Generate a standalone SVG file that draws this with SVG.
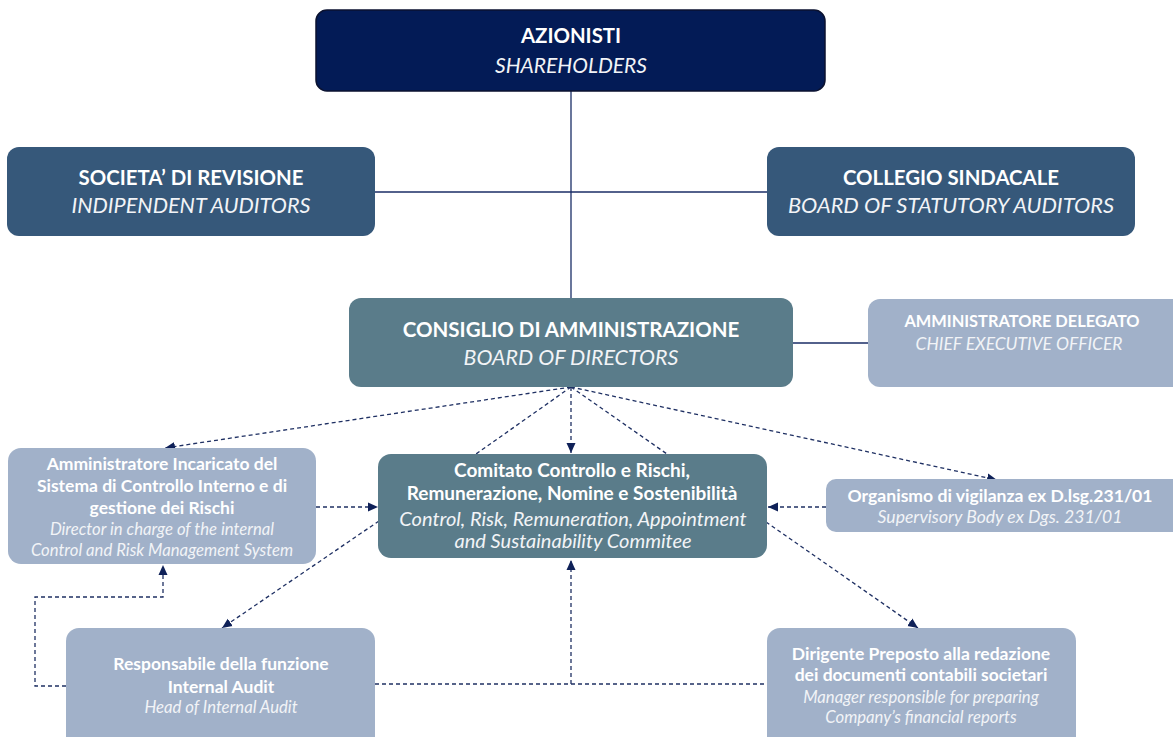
<svg xmlns="http://www.w3.org/2000/svg" width="1173" height="737" viewBox="0 0 1173 737">
<defs>
<style>
.t{font-family:Lato,"Open Sans","Liberation Sans",sans-serif;text-anchor:middle;fill:#ffffff}
.b{font-weight:bold}
.i{font-style:italic;fill:#f2f4f7}
.solid{fill:none;stroke:#1a2d66;stroke-width:1.3}
.dash{fill:none;stroke:#1f3063;stroke-width:1.3;stroke-dasharray:4 3}
.dark{fill:#36587a}
.mid{fill:#5a7c8a}
.light{fill:#a1b1c9}
.sb{font-size:17.5px}
.si{font-size:16.7px}
</style>
<marker id="arr" viewBox="0 0 10 10" refX="10" refY="5" markerWidth="10" markerHeight="10" markerUnits="userSpaceOnUse" orient="auto">
<path d="M0,0.5 L10,5 L0,9.5 z" fill="#0f2158"/>
</marker>
</defs>
<rect width="1173" height="737" fill="#ffffff"/>

<g id="connectors">
<path class="solid" d="M571,91 L571,298"/>
<path class="solid" d="M375,192 L767,192"/>
<path class="solid" d="M793,343 L868,343"/>
<path class="dash" d="M571,387 L165,448" marker-end="url(#arr)"/>
<path class="dash" d="M571,387 L476,454"/>
<path class="dash" d="M571,387 L571,453" marker-end="url(#arr)"/>
<path class="dash" d="M571,387 L667,454"/>
<path class="dash" d="M571,387 L997,480" marker-end="url(#arr)"/>
<path class="dash" d="M316,507 L378,507" marker-end="url(#arr)"/>
<path class="dash" d="M826,507 L768,507" marker-end="url(#arr)"/>
<path class="dash" d="M379,521 L222,628" marker-end="url(#arr)"/>
<path class="dash" d="M766,522 L918,628" marker-end="url(#arr)"/>
<path class="dash" d="M66,686 L35,686 L35,597 L163,597 L163,565" marker-end="url(#arr)"/>
<path class="dash" d="M375,684 L767,684"/>
<path class="dash" d="M571,684 L571,560" marker-end="url(#arr)"/>
</g>

<g id="azionisti">
<rect x="316" y="10" width="509" height="81" rx="11" fill="#031b56" stroke="#0b1230" stroke-width="1.5"/>
<text class="t b" x="571" y="43" font-size="20.4">AZIONISTI</text>
<text class="t i" x="571" y="73" font-size="21">SHAREHOLDERS</text>
</g>

<g id="societa-revisione">
<rect class="dark" x="7" y="147" width="368" height="89" rx="12"/>
<text class="t b" x="191" y="185" font-size="20.4">SOCIETA’ DI REVISIONE</text>
<text class="t i" x="191" y="213" font-size="21.6">INDIPENDENT AUDITORS</text>
</g>

<g id="collegio-sindacale">
<rect class="dark" x="767" y="147" width="368" height="89" rx="12"/>
<text class="t b" x="951" y="185" font-size="20.4">COLLEGIO SINDACALE</text>
<text class="t i" x="951" y="213" font-size="21.8">BOARD OF STATUTORY AUDITORS</text>
</g>

<g id="consiglio">
<rect class="mid" x="349" y="298" width="444" height="89" rx="12"/>
<text class="t b" x="571" y="337" font-size="20.5">CONSIGLIO DI AMMINISTRAZIONE</text>
<text class="t i" x="571" y="365" font-size="21.4">BOARD OF DIRECTORS</text>
</g>

<g id="amministratore-delegato">
<rect class="light" x="868" y="299" width="320" height="88" rx="12"/>
<text class="t b" x="1022" y="327" font-size="16.4">AMMINISTRATORE DELEGATO</text>
<text class="t i" x="1019" y="350" font-size="17.4">CHIEF EXECUTIVE OFFICER</text>
</g>

<g id="comitato">
<rect class="mid" x="378" y="454" width="389" height="104" rx="13"/>
<text class="t b" x="572" y="477" font-size="19">Comitato Controllo e Rischi,</text>
<text class="t b" x="572" y="500" font-size="19">Remunerazione, Nomine e Sostenibilità</text>
<text class="t i" x="573" y="526" font-size="20">Control, Risk, Remuneration, Appointment</text>
<text class="t i" x="573" y="548" font-size="20">and Sustainability Commitee</text>
</g>

<g id="amministratore-incaricato">
<rect class="light" x="8" y="448" width="308" height="116" rx="13"/>
<text class="t b sb" x="162" y="470">Amministratore Incaricato del</text>
<text class="t b sb" x="162" y="492">Sistema di Controllo Interno e di</text>
<text class="t b sb" x="162" y="514">gestione dei Rischi</text>
<text class="t i si" x="162" y="535">Director in charge of the internal</text>
<text class="t i si" x="162" y="556">Control and Risk Management System</text>
</g>

<g id="organismo-vigilanza">
<rect class="light" x="826" y="479" width="360" height="53" rx="10"/>
<text class="t b" x="1000" y="502" font-size="17.6">Organismo di vigilanza ex D.lsg.231/01</text>
<text class="t i" x="1000" y="523" font-size="17.6">Supervisory Body ex Dgs. 231/01</text>
</g>

<g id="responsabile-internal-audit">
<rect class="light" x="66" y="628" width="309" height="125" rx="13"/>
<text class="t b sb" x="221" y="670">Responsabile della funzione</text>
<text class="t b sb" x="221" y="693">Internal Audit</text>
<text class="t i si" x="221" y="713">Head of Internal Audit</text>
</g>

<g id="dirigente-preposto">
<rect class="light" x="767" y="628" width="309" height="125" rx="13"/>
<text class="t b sb" x="921" y="660">Dirigente Preposto alla redazione</text>
<text class="t b sb" x="921" y="681">dei documenti contabili societari</text>
<text class="t i si" x="921" y="703">Manager responsible for preparing</text>
<text class="t i si" x="921" y="723">Company’s financial reports</text>
</g>
</svg>
